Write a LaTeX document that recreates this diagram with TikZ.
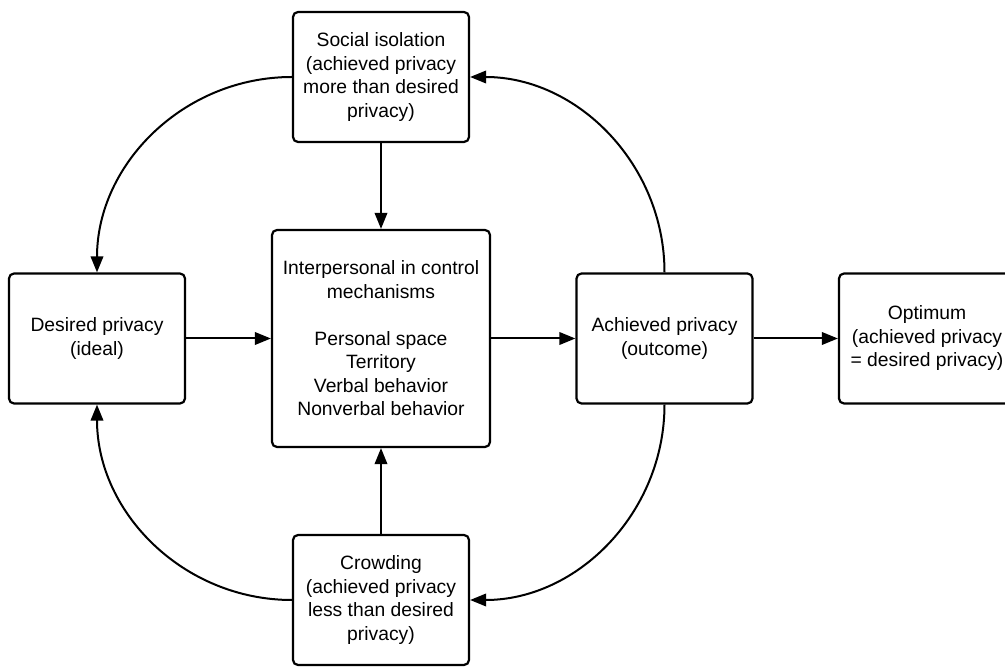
\documentclass[tikz,border=0pt]{standalone}
\usepackage{fontspec}
\setmainfont{Liberation Sans}
\usetikzlibrary{arrows.meta}
\begin{document}
\begin{tikzpicture}[x=1pt,y=1pt,
  box/.style={draw=black, line width=2.2pt, rounded corners=5pt, fill=white,
    align=center, inner sep=0pt,
    font=\fontsize{19.3}{23.5}\selectfont},
  sbox/.style={box, minimum width=176pt, minimum height=130pt},
  conn/.style={line width=2pt, -{Triangle[length=16pt,width=12.5pt]}}]
\useasboundingbox (0,0) rectangle (1005,667);
\clip (0,0) rectangle (1005,667);
\fill[white] (0,0) rectangle (1005,667);
\node[sbox] (social) at (381,590) {Social isolation\\(achieved privacy\\more than desired\\privacy)};
\node[sbox] (desired) at (97,328.5) {Desired privacy\\(ideal)};
\node[box, minimum width=218pt, minimum height=217pt] (inter) at (381,328.5)
  {Interpersonal in control\\mechanisms\\[23.5pt]Personal space\\Territory\\Verbal behavior\\Nonverbal behavior};
\node[sbox] (achieved) at (664.5,328.5) {Achieved privacy\\(outcome)};
\node[sbox] (optimum) at (927,328.5) {Optimum\\(achieved privacy\\= desired privacy)};
\node[sbox] (crowd) at (381,67) {Crowding\\(achieved privacy\\less than desired\\privacy)};
\draw[conn] (desired) -- (inter);
\draw[conn] (inter) -- (achieved);
\draw[conn] (achieved) -- (optimum);
\draw[conn] (social) -- (inter);
\draw[conn] (crowd) -- (inter);
\draw[conn] (achieved.north) to[out=90,in=0] (social.east);
\draw[conn] (social.west) to[out=180,in=90] (desired.north);
\draw[conn] (crowd.west) to[out=180,in=-90] (desired.south);
\draw[conn] (achieved.south) to[out=-90,in=0] (crowd.east);
\end{tikzpicture}
\end{document}
